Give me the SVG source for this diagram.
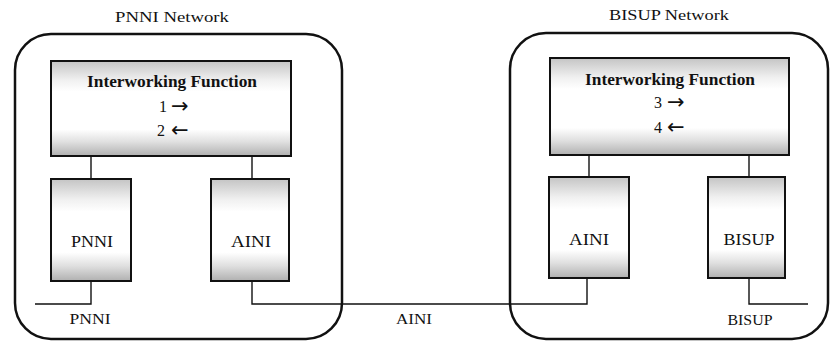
<svg xmlns="http://www.w3.org/2000/svg" width="832" height="342" viewBox="0 0 832 342">
<defs>
<linearGradient id="shade" x1="0" y1="0" x2="0" y2="1">
<stop offset="0" stop-color="#c4c4c4"/>
<stop offset="0.2" stop-color="#f0f0f0"/>
<stop offset="0.32" stop-color="#ffffff"/>
<stop offset="0.72" stop-color="#ffffff"/>
<stop offset="0.85" stop-color="#e0e0e0"/>
<stop offset="1" stop-color="#b0b0b0"/>
</linearGradient>
</defs>
<style>
.net{fill:none;stroke:#111;stroke-width:2.5}
.box{fill:url(#shade);stroke:#111;stroke-width:2}
.ln{fill:none;stroke:#111;stroke-width:1.4}
text{font-family:"Liberation Serif","DejaVu Serif",serif;fill:#111}
.c{text-anchor:middle}
.t{font-size:15px}
.iwf{font-size:16px;font-weight:bold}
.lbl{font-size:17px}
.num{font-size:16px}
.ar{font-family:"DejaVu Sans",sans-serif;font-size:21px}
</style>
<rect width="832" height="342" fill="#fff"/>
<g id="pnni-network">
<rect class="net" x="15" y="34" width="327" height="305" rx="36"/>
<text class="t c" x="172" y="22" textLength="114" lengthAdjust="spacingAndGlyphs">PNNI Network</text>
</g>
<g id="bisup-network">
<rect class="net" x="510" y="33" width="318" height="306" rx="36"/>
<text class="t c" x="669" y="20" textLength="120" lengthAdjust="spacingAndGlyphs">BISUP Network</text>
</g>
<g id="connectors">
<path class="ln" d="M91 156V179"/>
<path class="ln" d="M252 156V179"/>
<path class="ln" d="M91 281V304H35"/>
<path class="ln" d="M252 281V304H587V278"/>
<path class="ln" d="M589 155V177"/>
<path class="ln" d="M749 155V177"/>
<path class="ln" d="M749 278V304H808"/>
</g>
<g id="iwf-left">
<rect class="box" x="51" y="61" width="240" height="95"/>
<text class="iwf c" x="172" y="87" textLength="170" lengthAdjust="spacingAndGlyphs">Interworking Function</text>
<text class="num" x="159" y="112">1<tspan class="ar" x="171" y="113">→</tspan></text>
<text class="num" x="157" y="136">2<tspan class="ar" x="171" y="137">←</tspan></text>
</g>
<g id="pnni-box">
<rect class="box" x="51" y="179" width="80" height="102"/>
<text class="lbl c" x="92" y="247" textLength="42" lengthAdjust="spacingAndGlyphs">PNNI</text>
</g>
<g id="aini-box-left">
<rect class="box" x="211" y="179" width="78" height="102"/>
<text class="lbl c" x="251" y="247" textLength="40" lengthAdjust="spacingAndGlyphs">AINI</text>
</g>
<g id="iwf-right">
<rect class="box" x="550" y="58" width="239" height="97"/>
<text class="iwf c" x="670" y="85" textLength="170" lengthAdjust="spacingAndGlyphs">Interworking Function</text>
<text class="num" x="654" y="108">3<tspan class="ar" x="667" y="109">→</tspan></text>
<text class="num" x="654" y="133">4<tspan class="ar" x="667" y="134">←</tspan></text>
</g>
<g id="aini-box-right">
<rect class="box" x="549" y="177" width="80" height="101"/>
<text class="lbl c" x="589" y="245" textLength="40" lengthAdjust="spacingAndGlyphs">AINI</text>
</g>
<g id="bisup-box">
<rect class="box" x="708" y="177" width="77" height="101"/>
<text class="lbl c" x="749" y="245" textLength="51" lengthAdjust="spacingAndGlyphs">BISUP</text>
</g>
<g id="labels">
<text class="t c" x="90" y="324" textLength="41" lengthAdjust="spacingAndGlyphs">PNNI</text>
<text class="t c" x="414" y="324" textLength="36" lengthAdjust="spacingAndGlyphs">AINI</text>
<text class="t c" x="750" y="325" textLength="45" lengthAdjust="spacingAndGlyphs">BISUP</text>
</g>
</svg>
